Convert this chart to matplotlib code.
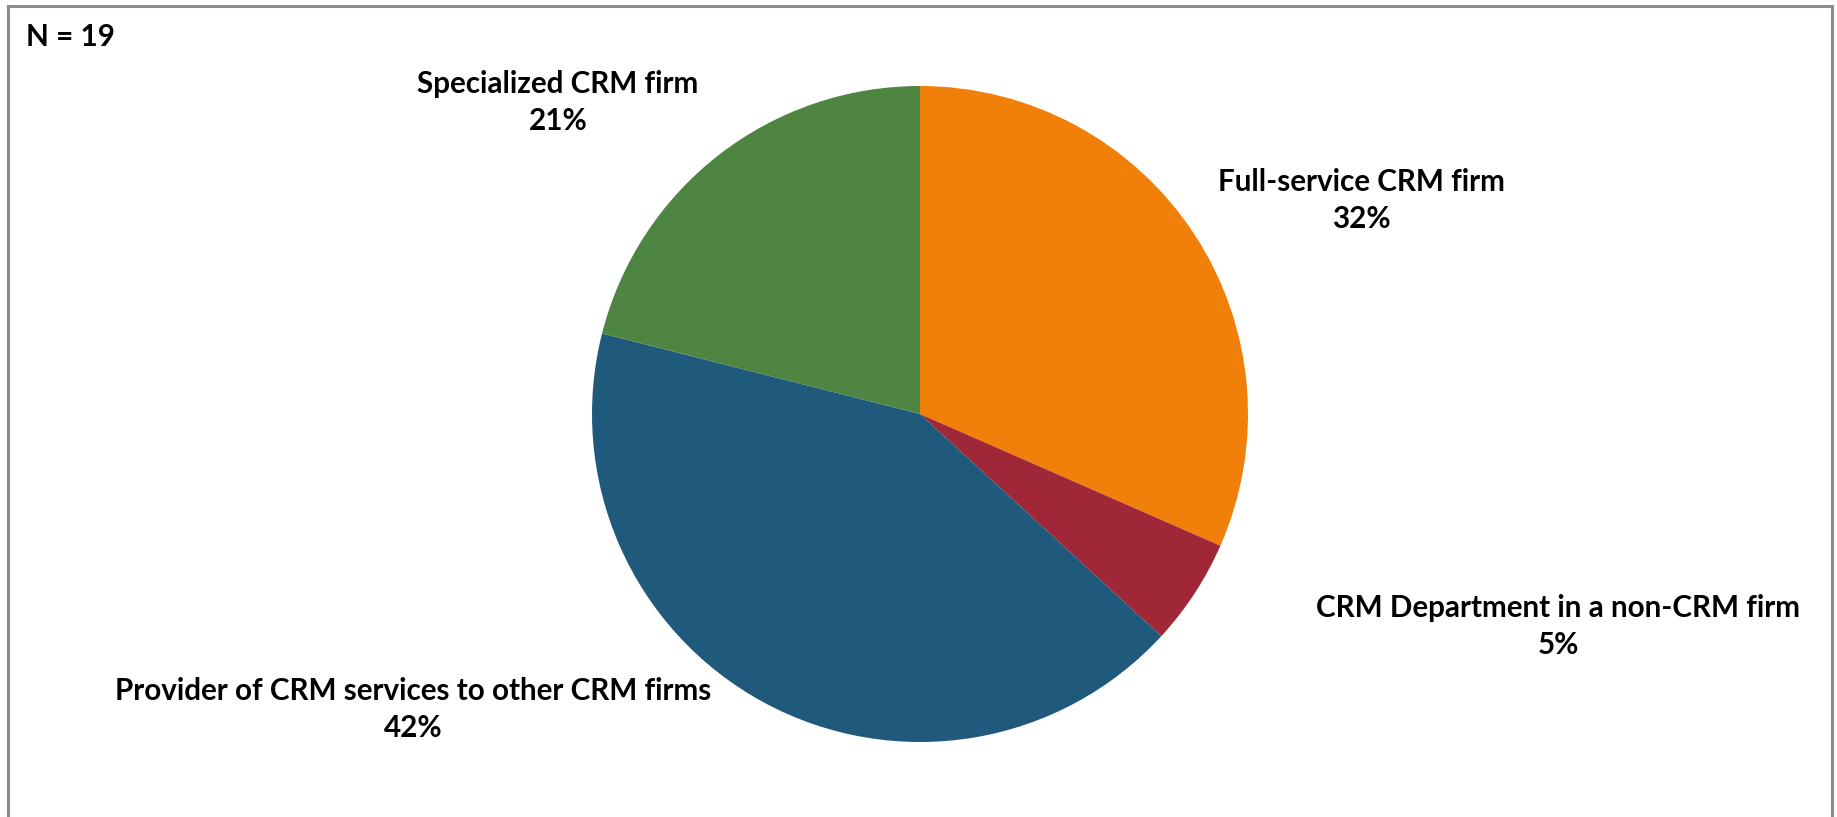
import matplotlib.pyplot as plt
from matplotlib.lines import Line2D

# Respondent counts per organisation type (N = 19)
categories = ["Full-service CRM firm", "CRM Department in a non-CRM firm",
              "Provider of CRM services to other CRM firms", "Specialized CRM firm"]
counts = [6, 1, 8, 4]
colors = ["#F0800A", "#A02737", "#1F5A7C", "#4E8542"]

W, H = 1837, 817
fig = plt.figure(figsize=(W / 100, H / 100), dpi=100)
ax = fig.add_axes([0, 0, 1, 1])

# pie in pixel-like coords (y measured from bottom)
cx, cy, r = 920, H - 414, 328
ax.pie(counts, colors=colors, startangle=90, counterclock=False,
       center=(cx, cy), radius=r, wedgeprops=dict(linewidth=0))
ax.set_xlim(0, W)
ax.set_ylim(0, H)
ax.set_aspect("equal")
ax.axis("off")

# label anchor points (pixel coords from top)
label_pos = [(1361, 182), (1558, 608), (413, 691), (558, 84)]
total = sum(counts)
font = dict(family="Lato", weight="bold", fontsize=21.3, color="black")
for name, v, (x, y) in zip(categories, counts, label_pos):
    ax.text(x, H - y, name, ha="center", va="center", **font)
    ax.text(x, H - y - 37, f"{v / total * 100:.0f}%", ha="center", va="center", **font)

ax.text(26, H - 37, "N = 19", ha="left", va="center", **font)

# chart frame (bottom edge falls outside the image)
frame = dict(color="#8C8C8C", linewidth=2.2, solid_capstyle="projecting")
ax.add_line(Line2D([8, 8], [-10, H - 6], **frame))
ax.add_line(Line2D([8, 1832], [H - 6, H - 6], **frame))
ax.add_line(Line2D([1832, 1832], [H - 6, -10], **frame))

fig.savefig("out.png", dpi=100)
